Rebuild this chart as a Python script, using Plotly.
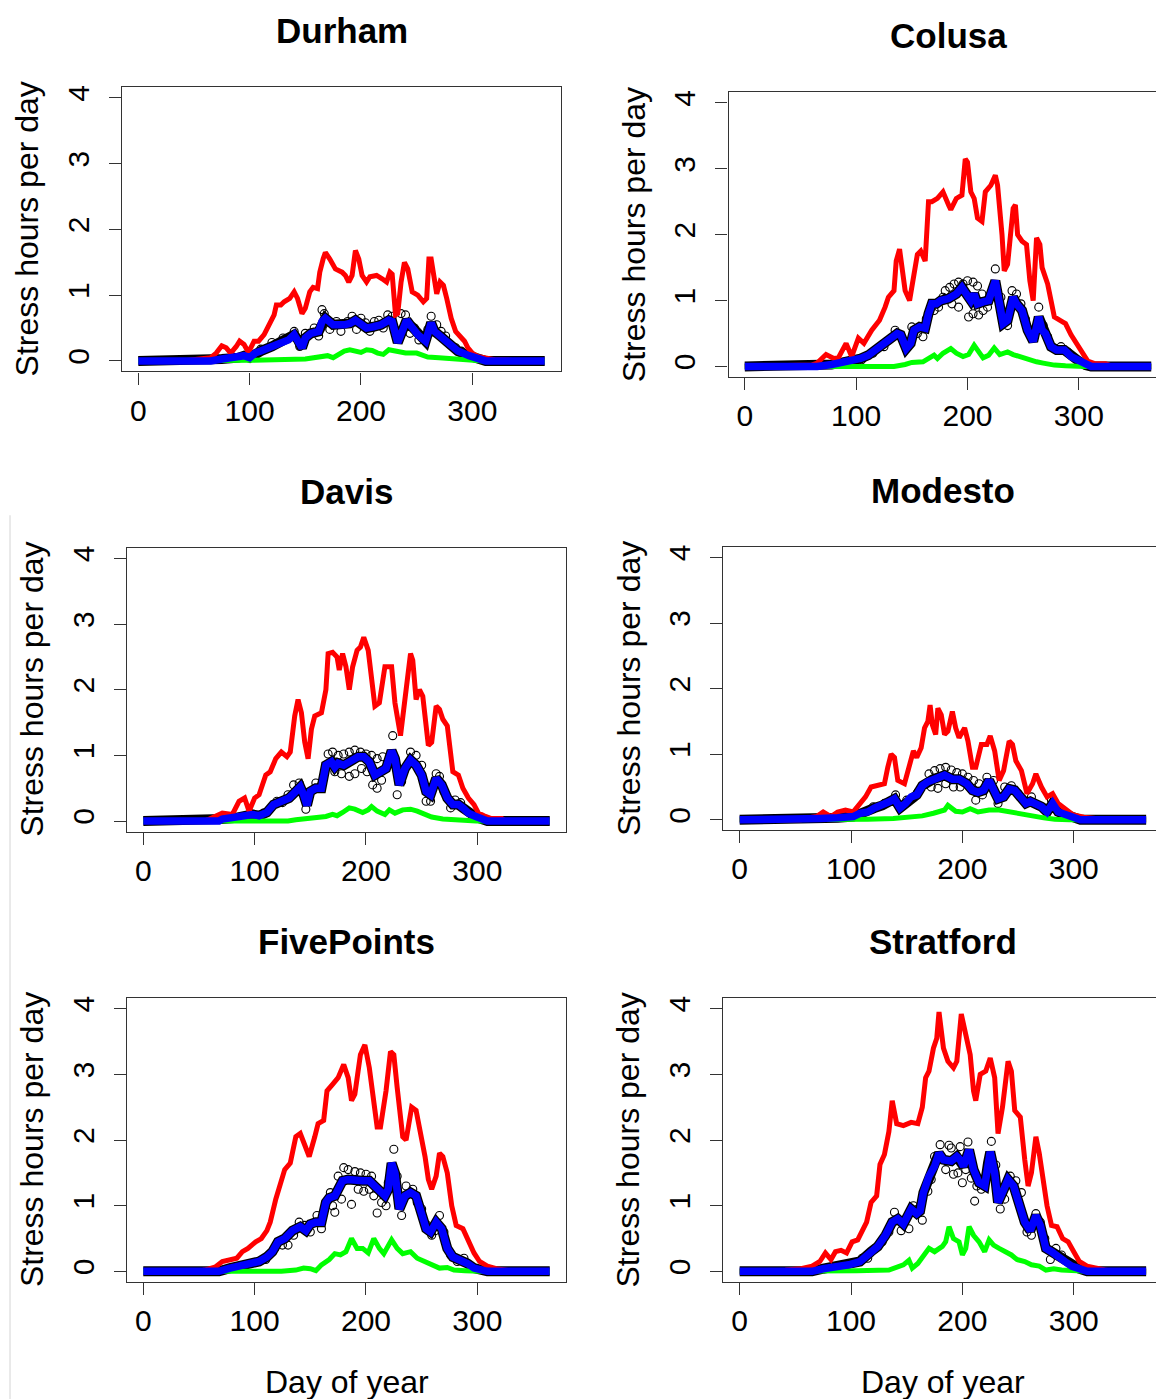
import plotly.graph_objects as go

# ---------------- data: (day of year, stress hours per day) ----------------
durham_red = [(0,0),(40,0),(55,0.03),(65,0.05),(70,0.12),(75,0.23),(79,0.2),(83,0.12),(88,0.22),(91,0.3),(95,0.25),(99,0.13),(104,0.3),(108,0.3),(113,0.4),(118,0.55),(122,0.7),(124,0.85),(128,0.85),(131,0.9),(136,0.95),(140,1.05),(143,0.95),(147,0.72),(150,0.8),(154,1.05),(157,1.12),(161,1.1),(163,1.35),(166,1.55),(168,1.65),(172,1.55),(177,1.4),(183,1.35),(186,1.3),(189,1.2),(192,1.3),(195,1.68),(198,1.55),(201,1.3),(205,1.2),(208,1.28),(214,1.3),(219,1.25),(223,1.2),(226,1.35),(228,1.32),(231,0.7),(233,0.72),(236,1.2),(239,1.5),(242,1.4),(246,1.05),(251,1.0),(256,0.9),(259,0.95),(261,1.55),(263,1.55),(266,1.2),(268,1.02),(271,1.2),(274,1.15),(277,0.95),(281,0.65),(285,0.45),(289,0.38),(293,0.3),(296,0.2),(300,0.12),(305,0.07),(312,0.04),(320,0.02),(345,0),(365,0)]
durham_blue = [(0,0),(65,0),(75,0.03),(90,0.05),(95,0.08),(100,0.05),(105,0.12),(110,0.15),(120,0.22),(130,0.3),(135,0.32),(140,0.4),(143,0.33),(147,0.2),(150,0.35),(155,0.42),(162,0.45),(165,0.6),(168,0.65),(175,0.55),(185,0.55),(190,0.57),(195,0.62),(200,0.55),(205,0.5),(211,0.52),(218,0.55),(225,0.62),(228,0.6),(233,0.28),(236,0.4),(241,0.62),(244,0.55),(251,0.4),(258,0.3),(263,0.58),(266,0.45),(271,0.38),(277,0.3),(287,0.15),(297,0.08),(307,0.01),(312,0),(365,0)]
durham_green = [(0,0),(70,0),(100,0.01),(150,0.03),(160,0.05),(170,0.08),(175,0.05),(180,0.1),(185,0.15),(190,0.17),(195,0.14),(200,0.13),(205,0.17),(210,0.16),(215,0.12),(220,0.1),(225,0.17),(230,0.15),(240,0.12),(250,0.12),(255,0.08),(260,0.06),(270,0.05),(280,0.04),(290,0.02),(300,0.01),(310,0),(365,0)]
durham_obs = [(85,0.06),(100,0.1),(110,0.18),(120,0.28),(130,0.35),(140,0.45),(145,0.22),(150,0.42),(158,0.5),(162,0.38),(165,0.78),(167,0.72),(170,0.62),(172,0.48),(178,0.6),(182,0.45),(188,0.6),(192,0.68),(196,0.48),(200,0.65),(204,0.58),(208,0.45),(212,0.6),(216,0.62),(220,0.5),(224,0.7),(228,0.68),(232,0.4),(236,0.72),(240,0.7),(244,0.42),(248,0.5),(252,0.32),(256,0.38),(260,0.48),(263,0.68),(268,0.55),(272,0.45),(276,0.38),(280,0.25),(285,0.2),(290,0.15)]

colusa_red = [(0,0),(60,0.02),(65,0.05),(73,0.18),(80,0.12),(84,0.13),(91,0.35),(96,0.15),(102,0.43),(107,0.35),(114,0.55),(121,0.7),(126,0.9),(129,1.05),(134,1.15),(136,1.6),(139,1.78),(142,1.45),(144,1.15),(148,1.0),(152,1.4),(155,1.7),(158,1.75),(162,1.6),(165,2.5),(168,2.5),(173,2.55),(178,2.65),(183,2.45),(185,2.38),(190,2.55),(195,2.6),(198,3.15),(200,3.1),(203,2.65),(206,2.55),(209,2.25),(213,2.2),(216,2.65),(221,2.75),(225,2.9),(227,2.75),(231,2.0),(233,1.45),(236,1.55),(241,2.4),(243,2.45),(245,2.0),(249,1.9),(253,1.85),(256,1.3),(259,1.0),(262,1.95),(265,1.85),(267,1.5),(272,1.25),(275,1.0),(278,0.75),(285,0.68),(288,0.65),(293,0.48),(298,0.35),(303,0.2),(308,0.08),(315,0.04),(324,0.04),(330,0),(365,0)]
colusa_blue = [(0,0),(65,0),(78,0.03),(88,0.06),(98,0.08),(104,0.12),(111,0.17),(117,0.25),(124,0.32),(130,0.42),(137,0.5),(140,0.48),(145,0.27),(149,0.35),(152,0.55),(157,0.6),(162,0.58),(165,0.8),(168,0.95),(172,0.95),(176,1.0),(183,1.03),(190,1.1),(195,1.2),(199,1.12),(203,1.0),(206,1.1),(209,0.95),(214,0.98),(219,1.0),(225,1.3),(227,1.15),(232,0.65),(236,0.7),(241,1.05),(244,0.95),(249,0.85),(254,0.55),(259,0.38),(264,0.75),(267,0.55),(270,0.5),(275,0.3),(280,0.25),(287,0.25),(293,0.15),(300,0.08),(306,0.02),(311,0),(365,0)]
colusa_green = [(0,0),(85,0),(134,0),(144,0.03),(150,0.06),(160,0.07),(165,0.12),(170,0.17),(173,0.12),(178,0.2),(185,0.27),(190,0.2),(196,0.15),(201,0.18),(206,0.32),(209,0.24),(214,0.13),(219,0.17),(224,0.28),(229,0.18),(236,0.22),(241,0.18),(247,0.15),(254,0.1),(262,0.07),(268,0.05),(278,0.02),(288,0.01),(305,0),(365,0)]
colusa_obs = [(95,0.08),(105,0.1),(115,0.2),(125,0.3),(135,0.55),(140,0.45),(150,0.6),(155,0.5),(160,0.45),(163,0.72),(170,0.85),(174,0.9),(178,1.05),(180,1.15),(184,1.2),(186,0.95),(188,1.25),(192,1.28),(192,0.9),(196,1.25),(200,1.3),(201,0.75),(205,1.28),(205,0.8),(209,1.22),(210,0.78),(213,1.1),(214,0.85),(218,0.9),(225,1.48),(230,1.05),(236,0.62),(240,1.15),(244,1.1),(248,0.95),(252,0.72),(256,0.5),(260,0.45),(264,0.9),(268,0.62),(272,0.45),(278,0.28),(284,0.3),(290,0.22)]

davis_red = [(0,0),(55,0),(58,0.02),(68,0.1),(71,0.12),(80,0.1),(86,0.3),(91,0.35),(95,0.15),(100,0.35),(104,0.4),(110,0.7),(114,0.75),(119,0.95),(124,1.05),(129,0.98),(132,1.05),(136,1.6),(139,1.85),(142,1.65),(145,1.2),(148,0.95),(151,1.4),(154,1.6),(160,1.65),(164,2.0),(166,2.55),(170,2.57),(174,2.5),(176,2.3),(179,2.55),(182,2.35),(185,2.0),(188,2.35),(192,2.6),(195,2.65),(198,2.8),(202,2.6),(205,2.2),(208,1.75),(212,1.8),(217,2.35),(223,2.35),(226,1.8),(231,1.3),(235,1.9),(240,2.55),(242,2.45),(245,1.85),(248,2.0),(251,1.9),(256,1.15),(259,1.2),(263,1.75),(266,1.7),(269,1.55),(273,1.45),(278,0.75),(283,0.7),(287,0.5),(292,0.35),(297,0.25),(301,0.12),(306,0.08),(312,0.04),(322,0.04),(325,0),(365,0)]
davis_blue = [(0,0),(68,0),(71,0.03),(84,0.05),(98,0.1),(104,0.08),(111,0.13),(117,0.25),(124,0.3),(131,0.35),(137,0.45),(141,0.52),(144,0.4),(147,0.24),(150,0.45),(155,0.5),(160,0.5),(164,0.85),(169,0.9),(172,0.82),(175,0.88),(180,0.85),(187,0.92),(193,0.98),(198,0.98),(203,0.9),(208,0.7),(213,0.75),(218,0.8),(223,1.07),(226,0.95),(230,0.55),(235,0.8),(240,0.93),(245,0.85),(250,0.7),(254,0.45),(258,0.4),(263,0.65),(268,0.55),(273,0.35),(278,0.25),(283,0.25),(287,0.2),(292,0.12),(297,0.08),(302,0.04),(309,0),(365,0)]
davis_green = [(0,0),(75,0),(130,0),(137,0.02),(154,0.04),(164,0.07),(170,0.1),(174,0.08),(179,0.13),(185,0.2),(190,0.18),(197,0.13),(202,0.17),(205,0.22),(210,0.15),(217,0.1),(221,0.17),(226,0.12),(233,0.17),(240,0.18),(246,0.15),(253,0.1),(259,0.06),(269,0.03),(279,0.02),(289,0.01),(299,0),(365,0)]
davis_obs = [(108,0.12),(120,0.3),(125,0.28),(130,0.4),(135,0.55),(140,0.58),(146,0.18),(155,0.58),(160,0.55),(166,1.02),(170,1.05),(172,0.75),(175,1.0),(178,0.72),(180,1.02),(185,1.05),(185,0.68),(190,1.08),(190,0.72),(195,1.05),(196,0.8),(200,1.02),(201,0.75),(205,1.0),(206,0.55),(210,0.95),(210,0.5),(214,0.62),(215,0.98),(224,1.3),(228,0.4),(232,0.6),(240,1.05),(245,1.0),(250,0.85),(254,0.3),(258,0.3),(263,0.72),(266,0.68),(270,0.45),(276,0.2),(280,0.32),(285,0.28)]

modesto_red = [(0,0),(55,0),(59,0.02),(69,0.05),(75,0.12),(82,0.05),(88,0.12),(95,0.15),(102,0.12),(108,0.25),(113,0.35),(118,0.5),(125,0.52),(130,0.55),(133,0.8),(136,1.0),(139,0.95),(142,0.6),(148,0.55),(153,0.85),(156,1.05),(159,0.95),(163,1.1),(166,1.4),(169,1.5),(171,1.75),(173,1.45),(176,1.3),(178,1.7),(181,1.6),(184,1.3),(187,1.35),(191,1.65),(194,1.4),(197,1.25),(202,1.4),(205,1.2),(209,0.8),(212,0.8),(217,1.15),(222,1.15),(225,1.28),(229,1.05),(233,0.6),(237,0.75),(242,1.2),(245,1.15),(248,0.9),(253,0.75),(258,0.4),(263,0.55),(266,0.7),(271,0.5),(276,0.35),(281,0.4),(286,0.25),(293,0.15),(299,0.08),(309,0.04),(322,0.02),(330,0),(365,0)]
modesto_blue = [(0,0),(70,0),(72,0.02),(88,0.03),(102,0.05),(108,0.1),(115,0.12),(121,0.18),(128,0.22),(135,0.28),(139,0.32),(144,0.18),(149,0.25),(154,0.35),(159,0.38),(164,0.52),(169,0.58),(174,0.62),(179,0.65),(184,0.68),(191,0.62),(197,0.62),(204,0.55),(209,0.45),(214,0.42),(219,0.45),(224,0.6),(227,0.5),(232,0.32),(237,0.35),(242,0.47),(247,0.45),(252,0.35),(257,0.25),(261,0.28),(266,0.25),(271,0.2),(276,0.12),(281,0.25),(286,0.12),(293,0.08),(299,0.04),(306,0),(365,0)]
modesto_green = [(0,0),(88,0),(115,0.01),(138,0.02),(154,0.04),(164,0.06),(174,0.1),(184,0.15),(187,0.22),(194,0.13),(200,0.12),(207,0.17),(214,0.12),(224,0.15),(233,0.15),(243,0.12),(253,0.08),(263,0.05),(273,0.03),(283,0.01),(296,0),(365,0)]
modesto_obs = [(110,0.08),(120,0.2),(130,0.25),(140,0.38),(145,0.22),(150,0.3),(160,0.42),(170,0.7),(172,0.5),(175,0.75),(178,0.48),(180,0.78),(185,0.8),(185,0.55),(190,0.76),(192,0.5),(195,0.72),(198,0.5),(200,0.7),(205,0.65),(210,0.6),(212,0.3),(215,0.55),(218,0.38),(222,0.65),(228,0.6),(232,0.25),(238,0.5),(244,0.52),(250,0.4),(255,0.3),(262,0.35),(268,0.22),(274,0.18),(280,0.3),(285,0.15)]

fivepoints_red = [(0,0),(50,0),(55,0.02),(65,0.07),(71,0.15),(78,0.18),(84,0.2),(89,0.3),(94,0.35),(101,0.45),(106,0.5),(111,0.62),(114,0.75),(119,1.1),(122,1.25),(127,1.55),(132,1.65),(137,2.05),(141,2.1),(144,1.95),(149,1.75),(154,2.05),(157,2.25),(162,2.3),(165,2.75),(170,2.85),(175,2.95),(180,3.15),(184,2.95),(187,2.6),(190,2.7),(195,3.3),(199,3.45),(203,3.1),(207,2.5),(210,2.2),(213,2.2),(218,2.75),(222,3.35),(225,3.3),(228,2.8),(233,2.05),(236,2.0),(241,2.5),(245,2.45),(250,2.05),(253,1.75),(256,1.4),(259,1.25),(263,1.45),(266,1.8),(269,1.75),(273,1.5),(277,1.0),(281,0.7),(287,0.65),(292,0.45),(297,0.28),(302,0.15),(309,0.08),(317,0.04),(325,0.02),(332,0),(365,0)]
fivepoints_blue = [(0,0),(68,0),(78,0.05),(88,0.08),(98,0.12),(104,0.15),(111,0.22),(116,0.3),(121,0.45),(127,0.5),(134,0.62),(141,0.68),(146,0.62),(150,0.72),(155,0.75),(160,0.75),(164,1.05),(167,1.12),(172,1.15),(175,1.25),(179,1.38),(184,1.4),(190,1.38),(197,1.38),(203,1.38),(208,1.3),(212,1.2),(217,1.15),(220,1.25),(223,1.65),(226,1.5),(230,0.95),(235,1.15),(240,1.2),(245,1.15),(250,0.85),(254,0.65),(258,0.6),(263,0.75),(268,0.65),(273,0.35),(278,0.22),(284,0.18),(291,0.12),(297,0.05),(304,0.02),(309,0),(365,0)]
fivepoints_green = [(0,0),(71,0),(104,0.01),(124,0),(137,0.02),(144,0.05),(150,0.04),(155,0.01),(160,0.1),(167,0.18),(172,0.27),(177,0.25),(182,0.3),(187,0.5),(192,0.35),(197,0.35),(202,0.28),(207,0.5),(212,0.35),(216,0.27),(223,0.48),(228,0.35),(233,0.27),(240,0.3),(246,0.2),(253,0.15),(259,0.1),(266,0.05),(273,0.06),(279,0.02),(289,0.01),(302,0),(365,0)]
fivepoints_obs = [(110,0.18),(118,0.35),(125,0.4),(130,0.4),(135,0.55),(140,0.75),(145,0.7),(150,0.6),(156,0.85),(160,0.65),(168,1.2),(170,1.0),(172,0.9),(175,1.45),(178,1.1),(180,1.58),(184,1.55),(187,1.02),(190,1.52),(193,1.25),(195,1.5),(198,1.22),(200,1.48),(203,1.25),(205,1.45),(207,1.15),(210,0.89),(214,1.05),(218,1.0),(220,1.35),(225,1.86),(228,1.45),(232,0.85),(236,1.3),(242,1.25),(246,1.05),(250,0.95),(255,0.7),(259,0.55),(262,0.62),(266,0.85),(270,0.6),(276,0.25),(282,0.15),(288,0.2)]

stratford_red = [(0,0),(40,0),(42,0.02),(55,0.04),(65,0.08),(72,0.15),(77,0.28),(82,0.18),(86,0.3),(91,0.32),(96,0.28),(101,0.45),(106,0.48),(111,0.65),(114,0.75),(118,1.05),(123,1.15),(126,1.63),(130,1.78),(134,2.13),(137,2.6),(141,2.25),(147,2.22),(154,2.27),(160,2.25),(164,2.5),(167,2.95),(170,3.05),(174,3.4),(177,3.55),(179,3.95),(183,3.4),(187,3.2),(192,3.1),(195,3.2),(199,3.92),(203,3.6),(207,3.3),(210,2.75),(212,2.6),(216,3.0),(221,3.05),(225,3.25),(229,2.95),(232,2.1),(236,2.5),(241,3.2),(244,3.05),(247,2.45),(252,2.35),(256,1.7),(259,1.3),(262,1.5),(266,2.05),(269,1.8),(272,1.45),(276,1.0),(280,0.7),(285,0.68),(290,0.5),(295,0.45),(300,0.3),(305,0.15),(312,0.08),(321,0.04),(328,0.02),(335,0),(365,0)]
stratford_blue = [(0,0),(65,0),(75,0.04),(88,0.07),(98,0.1),(108,0.15),(118,0.3),(124,0.38),(131,0.55),(137,0.75),(142,0.8),(147,0.72),(151,0.85),(154,0.95),(159,0.88),(162,0.92),(165,1.2),(170,1.45),(175,1.6),(179,1.8),(183,1.7),(190,1.68),(195,1.75),(198,1.7),(201,1.6),(206,1.85),(210,1.55),(215,1.35),(220,1.3),(223,1.65),(225,1.82),(229,1.5),(232,1.05),(236,1.2),(241,1.4),(246,1.3),(251,1.0),(256,0.75),(261,0.62),(266,0.85),(270,0.7),(275,0.35),(280,0.3),(285,0.25),(292,0.15),(298,0.08),(305,0.04),(312,0),(365,0)]
stratford_green = [(0,0),(72,0),(105,0.01),(134,0.02),(141,0.06),(147,0.1),(152,0.17),(155,0.05),(160,0.12),(165,0.25),(170,0.35),(175,0.3),(182,0.38),(185,0.45),(188,0.68),(192,0.5),(197,0.45),(200,0.25),(203,0.35),(206,0.68),(210,0.55),(215,0.45),(220,0.3),(224,0.48),(228,0.4),(233,0.35),(239,0.3),(244,0.25),(249,0.18),(256,0.15),(262,0.1),(269,0.08),(275,0.02),(282,0.04),(289,0.02),(298,0.01),(312,0),(365,0)]
stratford_obs = [(110,0.2),(115,0.2),(122,0.35),(128,0.45),(134,0.6),(139,0.9),(145,0.62),(152,0.65),(156,1.0),(160,0.95),(164,0.78),(169,1.22),(172,1.4),(175,1.75),(180,1.93),(185,1.55),(188,1.92),(190,1.88),(192,1.48),(196,1.5),(198,1.9),(200,1.35),(203,1.55),(205,1.97),(208,1.42),(211,1.07),(213,1.3),(217,1.25),(220,1.42),(226,1.98),(230,1.62),(234,0.95),(238,1.1),(243,1.45),(248,1.38),(253,1.2),(258,0.6),(262,0.55),(266,0.88),(270,0.75),(274,0.5),(279,0.18),(284,0.35),(289,0.25)]

site_names = ["Durham", "Colusa", "Davis", "Modesto", "FivePoints", "Stratford"]
x_ticks = [0, 100, 200, 300]
y_ticks = [0, 1, 2, 3, 4]
x_title = "Day of year"
y_title = "Stress hours per day"

series = {
    "Durham": (durham_red, durham_blue, durham_green, durham_obs),
    "Colusa": (colusa_red, colusa_blue, colusa_green, colusa_obs),
    "Davis": (davis_red, davis_blue, davis_green, davis_obs),
    "Modesto": (modesto_red, modesto_blue, modesto_green, modesto_obs),
    "FivePoints": (fivepoints_red, fivepoints_blue, fivepoints_green, fivepoints_obs),
    "Stratford": (stratford_red, stratford_blue, stratford_green, stratford_obs),
}

# ---------------- layout geometry (pixels) ----------------
W, H = 1156, 1399
BOX_W = 439.0
X_LO, X_HI = -14.6, 379.6
Y_LO, Y_HI = -0.16, 4.16
PX_PER_DAY = BOX_W / (X_HI - X_LO)

boxes = {  # left, top, bottom, clipped-at-right?
    "Durham": (122, 85.5, 370, False),
    "Colusa": (728.5, 90.5, 375.5, True),
    "Davis": (127, 546.7, 830.7, False),
    "Modesto": (723.4, 545.7, 829.5, True),
    "FivePoints": (127, 997.7, 1281.7, False),
    "Stratford": (723.4, 997.7, 1281.7, True),
}

FONT = "Liberation Sans, Arial, sans-serif"
AX_COL = "#333333"

fig = go.Figure()
annotations = []

for i, name in enumerate(site_names, start=1):
    red, blue, green, obs = series[name]
    left, top, bottom, clipped = boxes[name]
    right = min(left + BOX_W, W)
    xhi = X_LO + (right - left) / PX_PER_DAY
    xa = "x" if i == 1 else f"x{i}"
    ya = "y" if i == 1 else f"y{i}"

    def tr(pts, **kw):
        fig.add_trace(go.Scatter(x=[p[0] for p in pts], y=[p[1] for p in pts],
                                 xaxis=xa, yaxis=ya, showlegend=False,
                                 hoverinfo="skip", **kw))

    # observed daily values (open circles); their dense band along the mean shows as a dark rim
    tr(blue, mode="lines", line=dict(color="black", width=10))
    tr(obs, mode="markers",
       marker=dict(symbol="circle-open", size=8, color="black", line=dict(width=1.1)))
    tr(red, mode="lines", line=dict(color="#FF0000", width=5))
    tr(green, mode="lines", line=dict(color="#00FF00", width=5))
    tr(blue, mode="lines", line=dict(color="#0000FF", width=7.5))

    common = dict(showgrid=False, zeroline=False, ticks="outside", ticklen=12,
                  tickwidth=1.3, tickcolor=AX_COL, showline=True, linecolor=AX_COL,
                  linewidth=1.3, tickfont=dict(family=FONT, size=30, color="black"))
    fig.layout[("xaxis" if i == 1 else f"xaxis{i}")] = dict(
        domain=[left / W, right / W], range=[X_LO, xhi], tickvals=x_ticks,
        anchor=ya, mirror=True, ticklabelstandoff=0, **common)
    fig.layout[("yaxis" if i == 1 else f"yaxis{i}")] = dict(
        domain=[1 - bottom / H, 1 - top / H], range=[Y_LO, Y_HI], tickvals=y_ticks,
        anchor=xa, mirror=(not clipped), tickangle=-90, ticklabelstandoff=8, **common)

    cx = left + BOX_W / 2
    annotations.append(dict(text=f"<b>{name}</b>", x=cx / W, y=1 - (top - 56.5) / H,
                            xref="paper", yref="paper", showarrow=False,
                            xanchor="center", yanchor="middle",
                            font=dict(family=FONT, size=35, color="black")))
    annotations.append(dict(text=y_title, x=(left - 95) / W, y=1 - ((top + bottom) / 2) / H,
                            xref="paper", yref="paper", showarrow=False, textangle=-90,
                            xanchor="center", yanchor="middle",
                            font=dict(family=FONT, size=32, color="black")))
    if name in ("FivePoints", "Stratford"):
        annotations.append(dict(text=x_title, x=cx / W, y=1 - 1381.5 / H,
                                xref="paper", yref="paper", showarrow=False,
                                xanchor="center", yanchor="middle",
                                font=dict(family=FONT, size=32, color="black")))

fig.update_layout(
    width=W, height=H, autosize=False,
    margin=dict(l=0, r=0, t=0, b=0),
    paper_bgcolor="white", plot_bgcolor="white",
    annotations=annotations,
    shapes=[dict(type="line", xref="paper", yref="paper",
                 x0=10 / W, x1=10 / W, y0=1 - 514 / H, y1=0,
                 line=dict(color="#d4d4d4", width=1))],
)

fig.write_html("out.html", config={"displayModeBar": False},
               post_script="document.body.style.margin='0px';document.body.style.overflow='hidden';")
